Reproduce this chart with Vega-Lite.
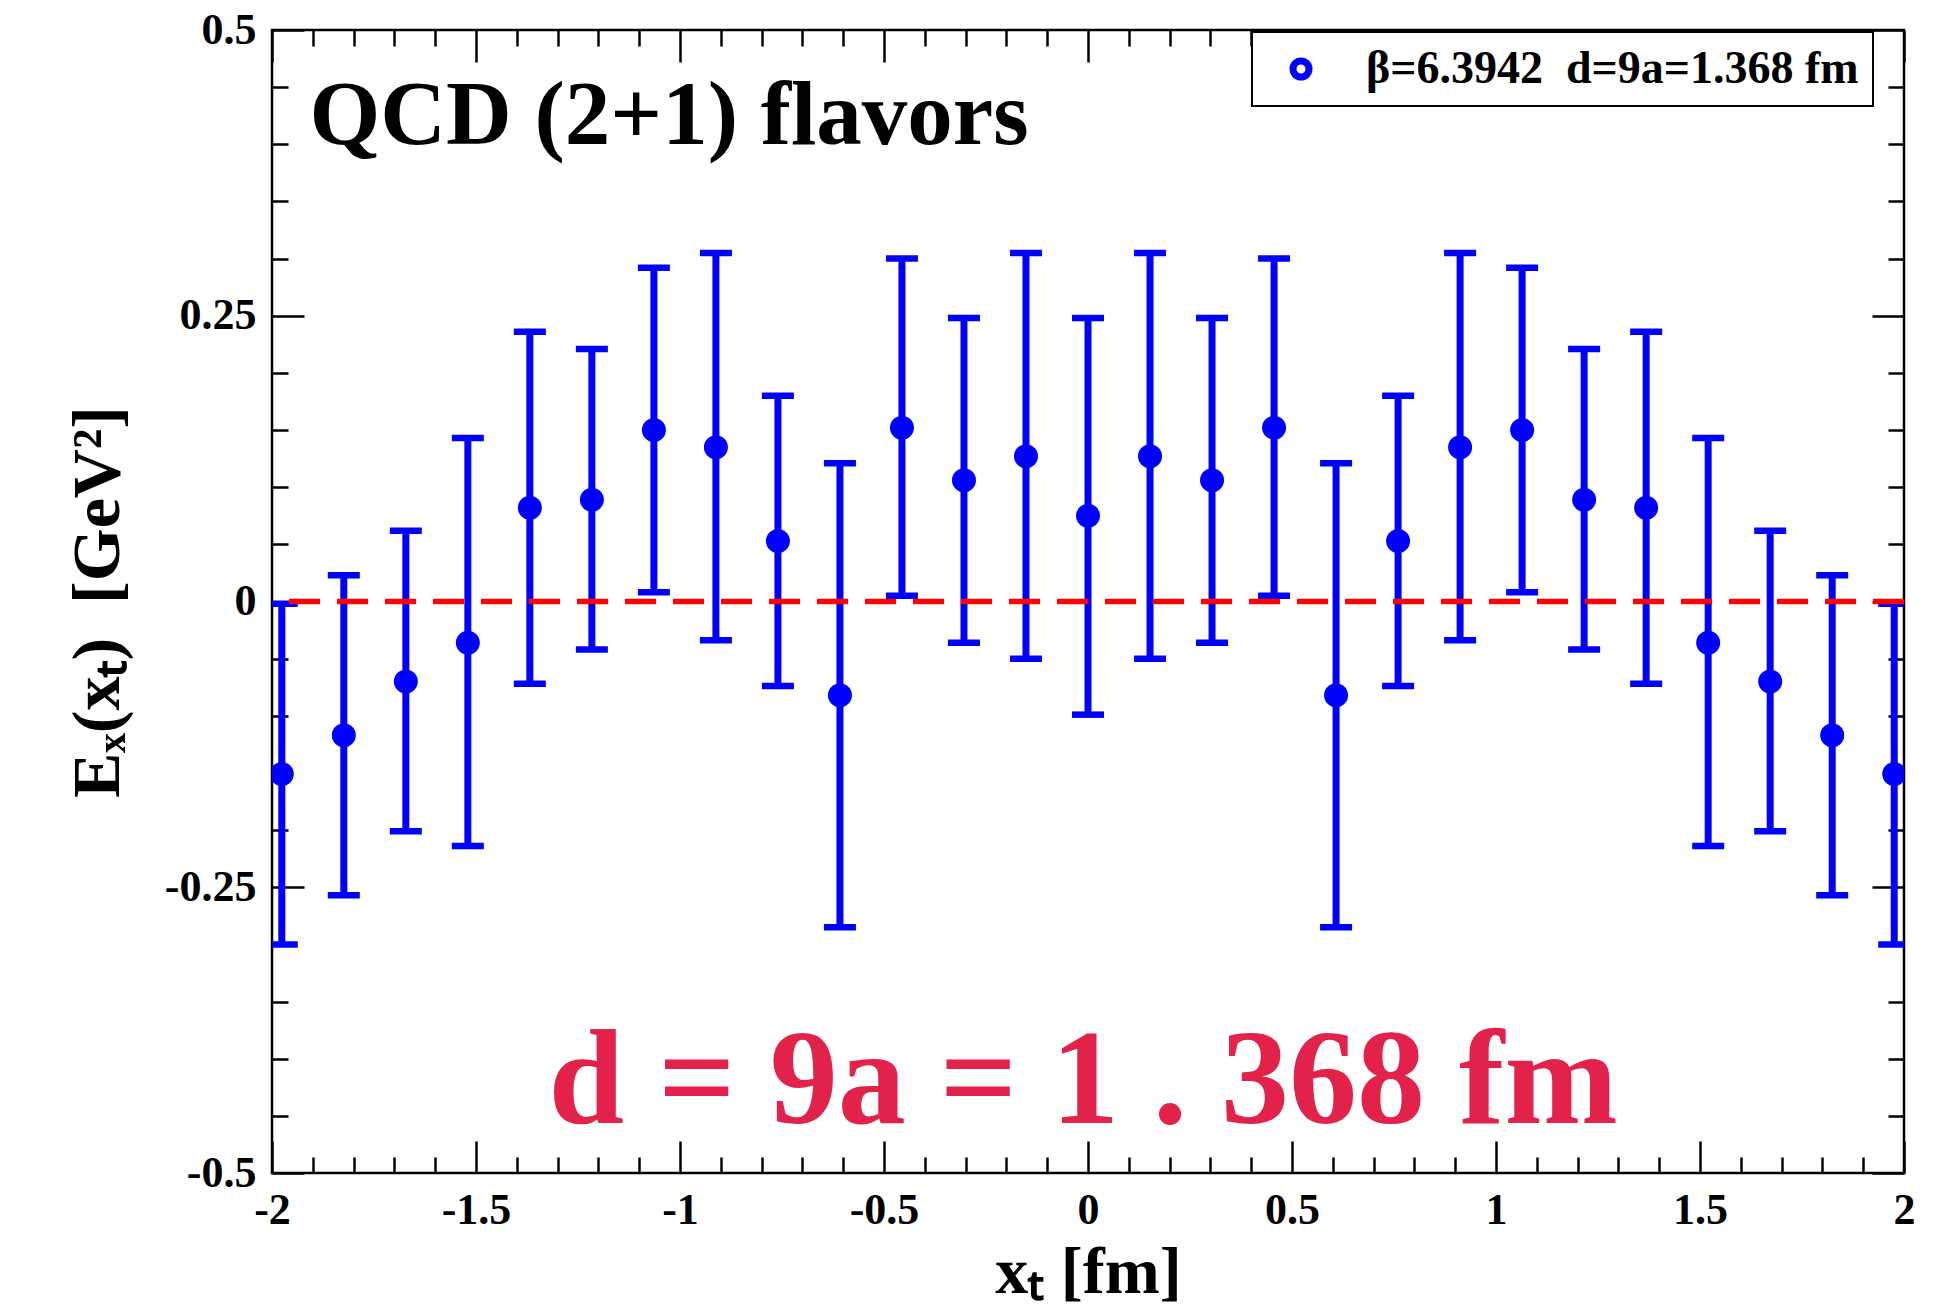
{
  "$schema": "https://vega.github.io/schema/vega-lite/v6.json",
  "width": 1632,
  "height": 1143,
  "autosize": {"type": "none"},
  "padding": {"left": 272, "top": 30, "right": 53, "bottom": 137},
  "background": "white",
  "config": {
    "view": {"stroke": "black", "strokeWidth": 2.5},
    "font": "Liberation Serif",
    "axis": {
      "domain": false, "grid": false, "tickColor": "black", "tickWidth": 2.5,
      "labelFont": "Liberation Serif", "labelFontWeight": "bold", "labelFontSize": 44, "labelColor": "black",
      "titleFont": "Liberation Serif", "titleFontWeight": "bold", "titleFontSize": 68, "titleColor": "black",
      "labelFlush": false, "labelOverlap": false, "labelBound": false
    },
    "legend": {"strokeWidth": 2}
  },
  "data": {"values": [
    {"x": -1.976, "y": -0.151, "lo": -0.300, "hi": -0.002},
    {"x": -1.824, "y": -0.117, "lo": -0.257, "hi": 0.023},
    {"x": -1.672, "y": -0.070, "lo": -0.201, "hi": 0.062},
    {"x": -1.520, "y": -0.036, "lo": -0.214, "hi": 0.143},
    {"x": -1.368, "y": 0.082, "lo": -0.072, "hi": 0.236},
    {"x": -1.216, "y": 0.089, "lo": -0.042, "hi": 0.221},
    {"x": -1.064, "y": 0.150, "lo": 0.008, "hi": 0.292},
    {"x": -0.912, "y": 0.135, "lo": -0.034, "hi": 0.305},
    {"x": -0.760, "y": 0.053, "lo": -0.074, "hi": 0.180},
    {"x": -0.608, "y": -0.082, "lo": -0.285, "hi": 0.121},
    {"x": -0.456, "y": 0.152, "lo": 0.005, "hi": 0.300},
    {"x": -0.304, "y": 0.106, "lo": -0.036, "hi": 0.248},
    {"x": -0.152, "y": 0.127, "lo": -0.050, "hi": 0.305},
    {"x": 0.000, "y": 0.075, "lo": -0.099, "hi": 0.248},
    {"x": 0.152, "y": 0.127, "lo": -0.050, "hi": 0.305},
    {"x": 0.304, "y": 0.106, "lo": -0.036, "hi": 0.248},
    {"x": 0.456, "y": 0.152, "lo": 0.005, "hi": 0.300},
    {"x": 0.608, "y": -0.082, "lo": -0.285, "hi": 0.121},
    {"x": 0.760, "y": 0.053, "lo": -0.074, "hi": 0.180},
    {"x": 0.912, "y": 0.135, "lo": -0.034, "hi": 0.305},
    {"x": 1.064, "y": 0.150, "lo": 0.008, "hi": 0.292},
    {"x": 1.216, "y": 0.089, "lo": -0.042, "hi": 0.221},
    {"x": 1.368, "y": 0.082, "lo": -0.072, "hi": 0.236},
    {"x": 1.520, "y": -0.036, "lo": -0.214, "hi": 0.143},
    {"x": 1.672, "y": -0.070, "lo": -0.201, "hi": 0.062},
    {"x": 1.824, "y": -0.117, "lo": -0.257, "hi": 0.023},
    {"x": 1.976, "y": -0.151, "lo": -0.300, "hi": -0.002}
  ]},
  "resolve": {"axis": {"x": "independent", "y": "independent"}},
  "layer": [
    {
      "mark": {"type": "rule", "color": "#0000ff", "strokeWidth": 7, "clip": true, "opacity": 1},
      "encoding": {
        "x": {
          "field": "x", "type": "quantitative",
          "scale": {"domain": [-2, 2], "nice": false, "zero": false},
          "axis": {
            "orient": "bottom",
            "values": [-2,-1.9,-1.8,-1.7,-1.6,-1.5,-1.4,-1.3,-1.2,-1.1,-1,-0.9,-0.8,-0.7,-0.6,-0.5,-0.4,-0.3,-0.2,-0.1,0,0.1,0.2,0.3,0.4,0.5,0.6,0.7,0.8,0.9,1,1.1,1.2,1.3,1.4,1.5,1.6,1.7,1.8,1.9,2],
            "tickSize": {"condition": {"test": "abs(datum.value*2 - round(datum.value*2)) < 0.001", "value": -32}, "value": -16},
            "labelPadding": 47,
            "labelExpr": "abs(datum.value*2 - round(datum.value*2)) < 0.001 ? toString(datum.value) : ''",
            "title": "xₜ [fm]",
            "titleFontSize": 66,
            "titlePadding": -8
          }
        },
        "y": {
          "field": "lo", "type": "quantitative",
          "scale": {"domain": [-0.5, 0.5], "nice": false, "zero": false},
          "axis": {
            "orient": "left",
            "values": [-0.5,-0.45,-0.4,-0.35,-0.3,-0.25,-0.2,-0.15,-0.1,-0.05,0,0.05,0.1,0.15,0.2,0.25,0.3,0.35,0.4,0.45,0.5],
            "tickSize": {"condition": {"test": "abs(datum.value*4 - round(datum.value*4)) < 0.001", "value": -32}, "value": -16},
            "labelPadding": 48,
            "labelExpr": "abs(datum.value*4 - round(datum.value*4)) < 0.001 ? toString(datum.value) : ''",
            "title": "Eₓ(xₜ)\u00a0\u00a0[GeV²]",
            "titlePadding": 32
          }
        },
        "y2": {"field": "hi"}
      }
    },
    {
      "mark": {"type": "tick", "orient": "horizontal", "color": "#0000ff", "size": 32, "thickness": 6.5, "clip": true, "opacity": 1},
      "encoding": {
        "x": {"field": "x", "type": "quantitative", "axis": null},
        "y": {"field": "lo", "type": "quantitative", "axis": null}
      }
    },
    {
      "mark": {"type": "tick", "orient": "horizontal", "color": "#0000ff", "size": 32, "thickness": 6.5, "clip": true, "opacity": 1},
      "encoding": {
        "x": {"field": "x", "type": "quantitative", "axis": null},
        "y": {"field": "hi", "type": "quantitative", "axis": null}
      }
    },
    {
      "mark": {"type": "point", "shape": "circle", "filled": false, "strokeWidth": 9, "size": 225, "clip": true, "opacity": 1},
      "encoding": {
        "x": {
          "field": "x", "type": "quantitative",
          "axis": {
            "orient": "top",
            "values": [-2,-1.9,-1.8,-1.7,-1.6,-1.5,-1.4,-1.3,-1.2,-1.1,-1,-0.9,-0.8,-0.7,-0.6,-0.5,-0.4,-0.3,-0.2,-0.1,0,0.1,0.2,0.3,0.4,0.5,0.6,0.7,0.8,0.9,1,1.1,1.2,1.3,1.4,1.5,1.6,1.7,1.8,1.9,2],
            "tickSize": {"condition": {"test": "abs(datum.value*2 - round(datum.value*2)) < 0.001", "value": -32}, "value": -16},
            "labels": false,
            "title": null
          }
        },
        "y": {
          "field": "y", "type": "quantitative",
          "axis": {
            "orient": "right",
            "values": [-0.5,-0.45,-0.4,-0.35,-0.3,-0.25,-0.2,-0.15,-0.1,-0.05,0,0.05,0.1,0.15,0.2,0.25,0.3,0.35,0.4,0.45,0.5],
            "tickSize": {"condition": {"test": "abs(datum.value*4 - round(datum.value*4)) < 0.001", "value": -32}, "value": -16},
            "labels": false,
            "title": null
          }
        },
        "color": {
          "datum": "β=6.3942\u00a0\u00a0d=9a=1.368 fm",
          "scale": {"range": ["#0000ff"]},
          "legend": {
            "orient": "none", "legendX": 980, "legendY": 2,
            "title": null, "strokeColor": "black", "fillColor": "white",
            "padding": 14, "symbolType": "circle", "symbolSize": 256, "symbolStrokeWidth": 7,
            "symbolOffset": 12, "labelOffset": 42,
            "labelFont": "Liberation Serif", "labelFontWeight": "bold", "labelFontSize": 46,
            "labelColor": "black", "labelLimit": 0
          }
        }
      }
    },
    {
      "data": {"values": [{}]},
      "mark": {"type": "rule", "color": "#ff0000", "strokeWidth": 5.5, "strokeDash": [31, 17]},
      "encoding": {"y": {"datum": 0, "axis": null}}
    },
    {
      "data": {"values": [{}]},
      "mark": {"type": "text", "align": "left", "baseline": "alphabetic", "font": "Liberation Serif", "fontWeight": "bold", "fontSize": 91, "color": "black"},
      "encoding": {
        "x": {"datum": -1.908, "axis": null},
        "y": {"datum": 0.4, "axis": null},
        "text": {"value": "QCD (2+1) flavors"}
      }
    },
    {
      "data": {"values": [{}]},
      "mark": {"type": "text", "align": "center", "baseline": "alphabetic", "font": "Liberation Serif", "fontWeight": "bold", "fontSize": 136, "color": "#e2224a"},
      "encoding": {
        "x": {"datum": -0.012, "axis": null},
        "y": {"datum": -0.456, "axis": null},
        "text": {"value": "d = 9a = 1 . 368 fm"}
      }
    }
  ]
}
